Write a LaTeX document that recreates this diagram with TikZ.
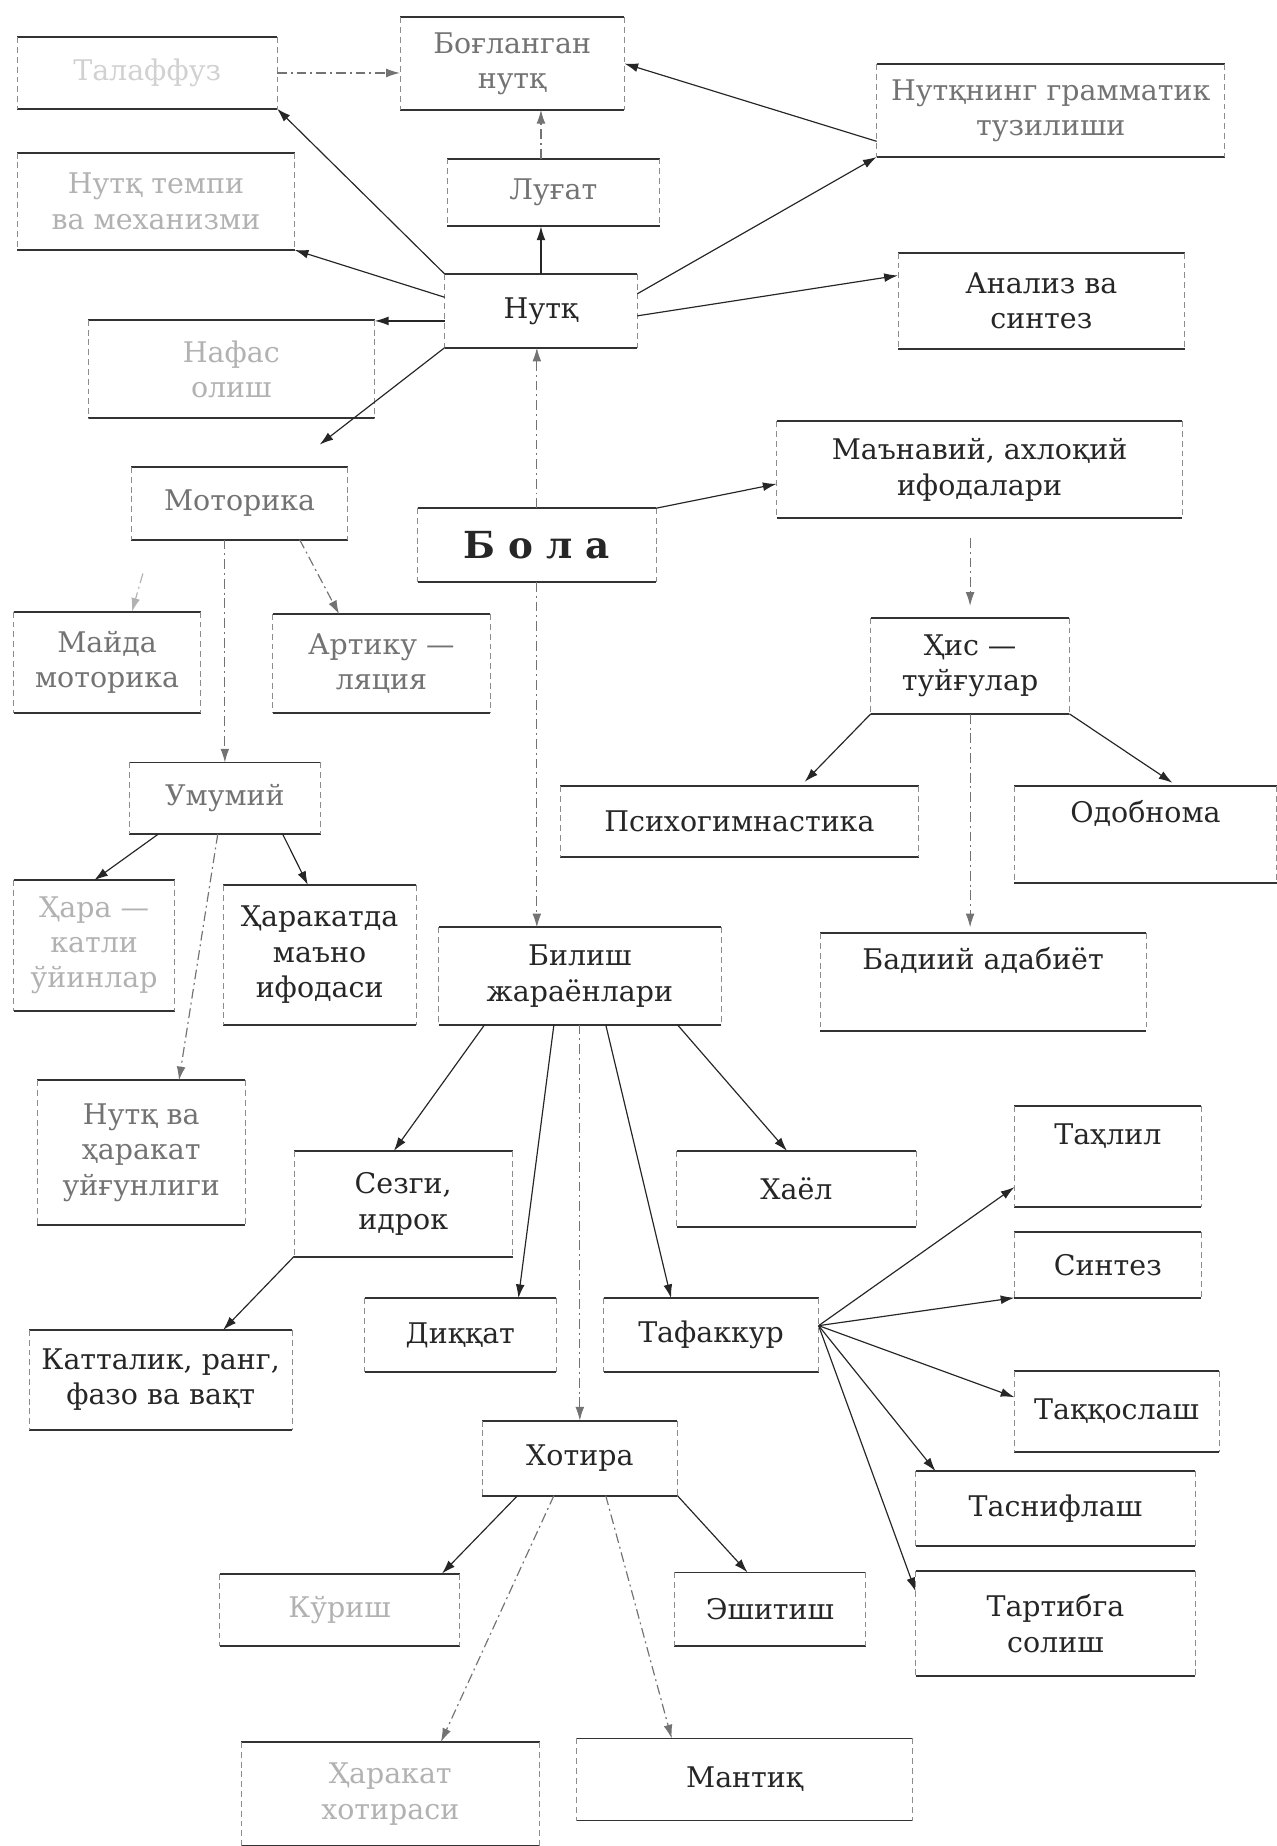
\documentclass[tikz,border=0pt]{standalone}
\usepackage{fontspec}
\setmainfont{DejaVu Serif}
\usetikzlibrary{arrows.meta,calc}
\tikzstyle{box} = [rectangle, inner sep=0pt, align=center, font=\fontsize{14.5}{18}\selectfont, text=black!85]
\tikzset{sz/.style 2 args={minimum width=#1*0.6pt, minimum height=#2*0.6pt}}
\tikzstyle{grey} = [text=black!55]
\tikzstyle{pale} = [text=black!30]
\tikzstyle{hline} = [line width=1pt, black!80]
\tikzstyle{vline} = [line width=0.4pt, black!45, densely dashed]
\tikzstyle{arr} = [-{Latex[length=7pt,width=4.5pt]}, line width=0.6pt, black!85]
\tikzstyle{darr} = [arr, black!55, dash pattern=on 5pt off 2pt on 1pt off 2pt]

\begin{document}
\begin{tikzpicture}[x=0.6pt, y=-0.6pt]
	\useasboundingbox (0,0) rectangle (1084,1568);
	% upper part
	\node [box, sz={220}{60}, text=black!18] (talaffuz) at (125,62) {Талаффуз};
	\node [box, sz={235}{82}, pale] (tempi) at (132.5,171) {Нутқ темпи\\ва механизми};
	\node [box, sz={243}{83}, pale] (nafas) at (196.5,313.5) {Нафас\\олиш};
	\node [box, sz={190}{78}, grey] (boglangan) at (435,54) {Боғланган\\нутқ};
	\node [box, sz={180}{57}, grey] (lugat) at (470,163.5) {Луғат};
	\node [box, sz={163}{62}] (nutq) at (459.5,264) {Нутқ};
	\node [box, sz={295}{78}, grey] (grammatik) at (892.5,94) {Нутқнинг грамматик\\тузилиши};
	\node [box, sz={243}{81}] (analiz) at (884.5,255.5) {Анализ ва\\синтез};
	\node [box, sz={183}{61}, grey] (motorika) at (203.5,427.5) {Моторика};
	\node [box, sz={202}{62}, font=\fontsize{19}{22}\selectfont\bfseries] (bola) at (456,463) {Б о л а};
	\node [box, sz={344}{82}] (manaviy) at (832,399) {Маънавий, ахлоқий\\ифодалари};
	\node [box, sz={158}{85}, grey] (mayda) at (91,562.5) {Майда\\моторика};
	\node [box, sz={184}{83}, grey] (artiku) at (324,563.5) {Артику —\\ляция};
	\node [box, sz={168}{81}] (his) at (824,565.5) {Ҳис —\\туйғулар};
	\node [box, sz={162}{60}, grey] (umumiy) at (191,678) {Умумий};
	\node [box, sz={304}{60}] (psixo) at (628,698) {Психогимнастика};
	\node [box, sz={222}{82}] (odobnoma) at (973,709) {Одобнома\\\strut};
	\node [box, sz={136}{110}, pale] (hara) at (80,803) {Ҳара —\\катли\\ўйинлар};
	\node [box, sz={163}{118}] (harakatda) at (271.5,811) {Ҳаракатда\\маъно\\ифодаси};
	\node [box, sz={239}{82}] (bilish) at (492.5,829) {Билиш\\жараёнлари};
	\node [box, sz={276}{82}] (badiiy) at (835,834) {Бадиий адабиёт\\\strut};
	% lower part
	\node [box, sz={176}{122}, grey] (uygunlik) at (120,979) {Нутқ ва\\ҳаракат\\уйғунлиги};
	\node [box, sz={185}{89}] (sezgi) at (342.5,1022.5) {Сезги,\\идрок};
	\node [box, sz={203}{64}] (xayol) at (676.5,1010) {Хаёл};
	\node [box, sz={158}{85}] (tahlil) at (941,982.5) {Таҳлил\\\strut};
	\node [box, sz={158}{55}] (sintez) at (941,1074.5) {Синтез};
	\node [box, sz={162}{62}] (diqqat) at (391,1134) {Диққат};
	\node [box, sz={182}{62}] (tafakkur) at (604,1134) {Тафаккур};
	\node [box, sz={173}{68}] (taqqoslash) at (948.5,1199) {Таққослаш};
	\node [box, sz={223}{84}] (kattalik) at (136.5,1172) {Катталик, ранг,\\фазо ва вақт};
	\node [box, sz={165}{63}] (xotira) at (492.5,1238.5) {Хотира};
	\node [box, sz={237}{63}] (tasniflash) at (896.5,1281.5) {Таснифлаш};
	\node [box, sz={203}{61}, pale] (korish) at (288.5,1367.5) {Кўриш};
	\node [box, sz={162}{62}] (eshitish) at (654,1367) {Эшитиш};
	\node [box, sz={237}{88}] (tartibga) at (896.5,1379) {Тартибга\\солиш};
	\node [box, sz={253}{88}, pale] (harxotira) at (331.5,1524) {Ҳаракат\\хотираси};
	\node [box, sz={285}{69}] (mantiq) at (632.5,1511.5) {Мантиқ};
	% frames
	\foreach \n in {talaffuz, tempi, nafas, boglangan, lugat, nutq, grammatik, analiz, motorika, bola, manaviy, mayda, artiku, his, umumiy, psixo, odobnoma, hara, harakatda, bilish, badiiy, uygunlik, sezgi, xayol, tahlil, sintez, diqqat, tafakkur, taqqoslash, kattalik, xotira, tasniflash, korish, eshitish, tartibga, harxotira, mantiq} {
		\draw [hline] (\n.north west) -- (\n.north east) (\n.south west) -- (\n.south east);
		\draw [vline] (\n.north west) -- (\n.south west) (\n.north east) -- (\n.south east);
	}
	% speech
	\draw [arr] (nutq.north) -- (nutq.north |- lugat.south);
	\draw [darr] (nutq.north |- lugat.north) -- (nutq.north |- boglangan.south);
	\draw [arr] (nutq.north west) -- (talaffuz.south east);
	\draw [arr] (nutq.172) -- (tempi.south east);
	\draw [arr] (nutq.186) -- (nutq.186 -| nafas.east);
	\draw [arr] (nutq.south west) -- ($(motorika.north)+(68,-19)$);
	\draw [arr] (nutq.10) -- (grammatik.south west);
	\draw [arr] (nutq.-3) -- (analiz.170);
	\draw [arr] (grammatik.190) -- (boglangan.east);
	\draw [darr] (talaffuz.east) -- (boglangan.west |- talaffuz.east);
	% child
	\draw [darr] (bola.north) -- (bola.north |- nutq.south);
	\draw [darr] (bola.south) -- (bola.south |- bilish.north);
	\draw [arr] (bola.north east) -- (manaviy.184);
	\draw [darr, shorten <=10pt, shorten >=6pt] (manaviy.south -| his.north) -- (his.north);
	\draw [arr, shorten >=3pt] (his.south west) -- ($(psixo.north)+(52,0)$);
	\draw [arr, shorten >=3pt] (his.south east) -- ($(odobnoma.north)+(27,0)$);
	\draw [darr, shorten >=3pt] (his.south) -- (his.south |- badiiy.north);
	% motor
	\draw [darr, black!30, shorten <=18pt] ($(motorika.south west)+(18,0)$) -- ($(mayda.north)+(21,0)$);
	\draw [darr] ($(motorika.south)+(51,0)$) -- ($(artiku.north)+(-36,0)$);
	\draw [darr] (motorika.south -| umumiy.north) -- (umumiy.north);
	\draw [arr] ($(umumiy.south west)+(25,0)$) -- (hara.north);
	\draw [arr] ($(umumiy.south)+(49,0)$) -- ($(harakatda.north)+(-10,0)$);
	\draw [darr] ($(umumiy.south)+(-6,0)$) -- ($(uygunlik.north)+(32,0)$);
	% cognition
	\draw [arr] ($(bilish.south west)+(39,0)$) -- ($(sezgi.north)+(-8,0)$);
	\draw [arr] ($(bilish.south)+(-22,0)$) -- ($(diqqat.north east)+(-32,0)$);
	\draw [darr] (bilish.south -| xotira.north) -- (xotira.north);
	\draw [arr] ($(bilish.south)+(22,0)$) -- ($(tafakkur.north)+(-34,0)$);
	\draw [arr] ($(bilish.south east)+(-37,0)$) -- ($(xayol.north)+(-8,0)$);
	\draw [arr] (sezgi.south west) -- ($(kattalik.north)+(53,0)$);
	\draw [arr] (tafakkur.5) -- ($(tahlil.south west)+(0,-17)$);
	\draw [arr] (tafakkur.5) -- (sintez.south west);
	\draw [arr] (tafakkur.5) -- (taqqoslash.172);
	\draw [arr] (tafakkur.5) -- ($(tasniflash.north west)+(17,0)$);
	\draw [arr] (tafakkur.5) -- ($(tartibga.north west)+(0,17)$);
	\draw [arr] ($(xotira.south west)+(30,0)$) -- ($(korish.north east)+(-15,0)$);
	\draw [arr] (xotira.south east) -- ($(eshitish.north)+(-19,0)$);
	\draw [darr] ($(xotira.south)+(-22,0)$) -- ($(harxotira.north)+(43,0)$);
	\draw [darr] ($(xotira.south)+(22,0)$) -- ($(mantiq.north)+(-62,0)$);
\end{tikzpicture}
\end{document}
